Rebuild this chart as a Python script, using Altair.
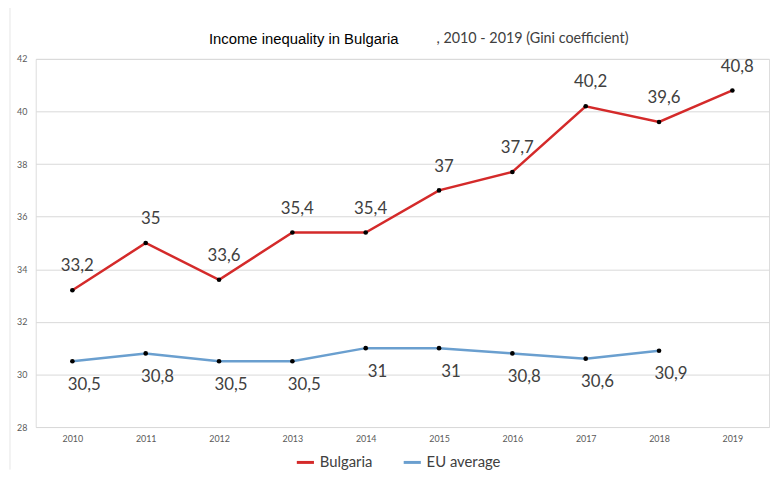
import altair as alt
import pandas as pd

years = [2010, 2011, 2012, 2013, 2014, 2015, 2016, 2017, 2018, 2019]
bulgaria = [33.2, 35.0, 33.6, 35.4, 35.4, 37.0, 37.7, 40.2, 39.6, 40.8]
eu_average = [30.5, 30.8, 30.5, 30.5, 31.0, 31.0, 30.8, 30.6, 30.9, None]
series_names = ["Bulgaria", "EU average"]
series_colors = ["#d42a2a", "#6a9fcf"]
y_ticks = [28, 30, 32, 34, 36, 38, 40, 42]

rows = []
for y, b, e in zip(years, bulgaria, eu_average):
    rows.append({"year": str(y), "value": b, "series": "Bulgaria"})
    if e is not None:
        rows.append({"year": str(y), "value": e, "series": "EU average"})
df = pd.DataFrame(rows)

FONT = "Lato"

x_enc = alt.X("year:O", title=None,
              scale=alt.Scale(type="point", padding=0.5),
              axis=alt.Axis(labelAngle=0, labelFont=FONT, labelFontSize=9,
                            labelColor="#595959", ticks=False, domain=False,
                            labelPadding=8, grid=False))
y_enc = alt.Y("value:Q", title=None,
              scale=alt.Scale(domain=[28, 42], nice=False, zero=False),
              axis=alt.Axis(values=y_ticks, labelFont=FONT, labelFontSize=9,
                            labelColor="#595959", ticks=False, domain=False,
                            gridColor="#d9d9d9", gridWidth=1, labelPadding=9))
color_enc = alt.Color("series:N", title=None,
                      scale=alt.Scale(domain=series_names, range=series_colors),
                      legend=alt.Legend(orient="none", legendX=262, legendY=397,
                                        direction="horizontal", symbolType="stroke",
                                        symbolStrokeWidth=3, symbolSize=300,
                                        labelFont=FONT, labelFontSize=15,
                                        labelColor="#404040", columnPadding=24,
                                        padding=0))

base = alt.Chart(df)

lines = base.mark_line(strokeWidth=2.5).encode(x=x_enc, y=y_enc, color=color_enc)
points = base.mark_point(filled=True, color="black", size=22, opacity=1).encode(
    x="year:O", y="value:Q")

labels_bg = base.transform_filter(alt.datum.series == "Bulgaria").transform_calculate(
    lab="replace(toString(datum.value), '.', ',')"
).mark_text(font=FONT, fontSize=17, color="#404040", dy=-24, dx=5).encode(
    x="year:O", y="value:Q", text="lab:N")

labels_eu = base.transform_filter(alt.datum.series == "EU average").transform_calculate(
    lab="replace(toString(datum.value), '.', ',')"
).mark_text(font=FONT, fontSize=17, color="#404040", dy=24, dx=12).encode(
    x="year:O", y="value:Q", text="lab:N")

title1 = alt.Chart(pd.DataFrame({"t": ["Income inequality in Bulgaria"]})).mark_text(
    font="Liberation Sans", fontSize=15, color="#000000", align="left"
).encode(x=alt.value(175), y=alt.value(-20), text="t:N")
title2 = alt.Chart(pd.DataFrame({"t": [", 2010 - 2019 (Gini coefficient)"]})).mark_text(
    font=FONT, fontSize=14.5, color="#404040", align="left"
).encode(x=alt.value(405), y=alt.value(-20), text="t:N")

border = alt.Chart(pd.DataFrame({"k": [0]})).mark_rule(color="#e6e6e6", strokeWidth=1).encode(
    x=alt.value(-26), y=alt.value(-57), y2=alt.value(415))

chart = alt.layer(border, lines, points, labels_bg, labels_eu, title1, title2).properties(
    width=741, height=372,
    padding={"left": 28, "top": 49, "right": 3, "bottom": 43},
    autosize=alt.AutoSizeParams(type="none"),
).configure_view(stroke=None).configure(background="white")

chart.save("out.html", embed_options={"renderer": "svg", "actions": False})
